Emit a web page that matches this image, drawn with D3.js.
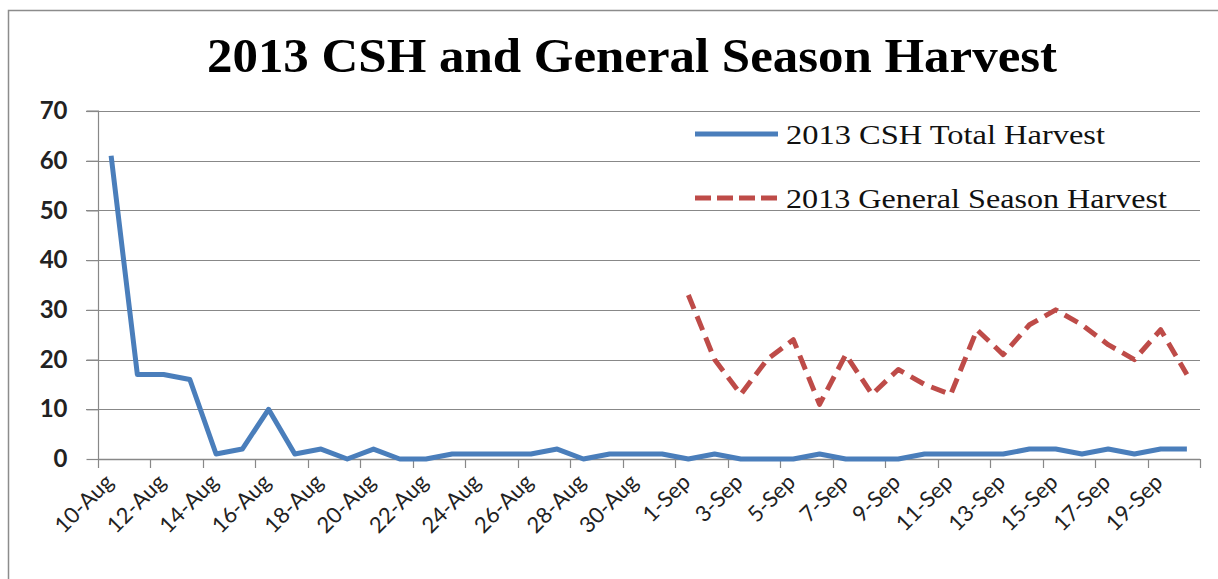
<!DOCTYPE html>
<html><head><meta charset="utf-8">
<script src="https://cdn.jsdelivr.net/npm/d3@7"></script>
<style>html,body{margin:0;padding:0;background:#fff;overflow:hidden}</style>
</head><body>
<svg id="c" width="1218" height="579"></svg>
<script>
const dates = ["10-Aug","11-Aug","12-Aug","13-Aug","14-Aug","15-Aug","16-Aug","17-Aug","18-Aug","19-Aug","20-Aug","21-Aug","22-Aug","23-Aug","24-Aug","25-Aug","26-Aug","27-Aug","28-Aug","29-Aug","30-Aug","31-Aug","1-Sep","2-Sep","3-Sep","4-Sep","5-Sep","6-Sep","7-Sep","8-Sep","9-Sep","10-Sep","11-Sep","12-Sep","13-Sep","14-Sep","15-Sep","16-Sep","17-Sep","18-Sep","19-Sep","20-Sep"];
const cshHarvest = [61,17,17,16,1,2,10,1,2,0,2,0,0,1,1,1,1,2,0,1,1,1,0,1,0,0,0,1,0,0,0,1,1,1,1,2,2,1,2,1,2,2];
const generalHarvest = [null,null,null,null,null,null,null,null,null,null,null,null,null,null,null,null,null,null,null,null,null,null,33,20,13,20,24,11,21,13,18,15,13,26,21,27,30,27,23,20,26,17];
const yTicks = [0,10,20,30,40,50,60,70];
const seriesNames = ["2013 CSH Total Harvest","2013 General Season Harvest"];
const titleText = "2013 CSH and General Season Harvest";

const svg = d3.select("#c");
const L = 98, R = 1200, T = 111, B = 459;
const blue = "#4A7EBB", red = "#BE4B48", grid = "#888888";

// frame
svg.append("rect").attr("x",8.5).attr("y",10.5).attr("width",1230).attr("height",600)
  .attr("fill","none").attr("stroke","#8c8c8c").attr("stroke-width",1.5);

const x = d3.scaleBand().domain(dates).range([L,R]).padding(0);
const y = d3.scaleLinear().domain([0,70]).range([B,T]);
const cx = d => x(d) + x.bandwidth()/2;

// gridlines
svg.append("g").selectAll("line").data(yTicks.filter(v=>v>0)).join("line")
  .attr("x1",L-12).attr("x2",R).attr("y1",d=>Math.round(y(d))+0.5).attr("y2",d=>Math.round(y(d))+0.5)
  .attr("stroke",grid).attr("stroke-width",1.2);

// y axis
const yAx = svg.append("g").attr("transform",`translate(${L+0.5},0)`)
  .call(d3.axisLeft(y).tickValues(yTicks).tickSize(12).tickPadding(19).tickFormat(d3.format("d")));
yAx.select(".domain").attr("stroke",grid).attr("stroke-width",1.2).attr("d",`M-12,${T}H0V${B}`);
yAx.selectAll(".tick line").attr("stroke",grid).attr("stroke-width",1.2);
yAx.selectAll("text").attr("font-family","Lato, 'DejaVu Sans', sans-serif").attr("font-weight","bold")
  .attr("font-size",24).attr("fill","#222");

// x axis
const tickPos = d3.range(0, dates.length+1, 2).map(i => L + i*x.bandwidth());
svg.append("line").attr("x1",L).attr("x2",R).attr("y1",B+0.5).attr("y2",B+0.5).attr("stroke",grid).attr("stroke-width",1.5);
svg.append("g").selectAll("line").data(tickPos).join("line")
  .attr("x1",d=>Math.round(d)+0.5).attr("x2",d=>Math.round(d)+0.5).attr("y1",B).attr("y2",B+9)
  .attr("stroke",grid).attr("stroke-width",1.2);
svg.append("g").selectAll("text").data(dates.filter((d,i)=>i%2===0)).join("text")
  .attr("transform",d=>`translate(${cx(d)-2},${B+19}) rotate(-45)`)
  .attr("text-anchor","end").attr("dy","0.35em")
  .attr("font-family","Lato, 'DejaVu Sans', sans-serif").attr("font-size",22).attr("fill","#222")
  .text(d=>d);

// lines
const line = d3.line().defined(d=>d[1]!==null).x(d=>cx(d[0])).y(d=>y(d[1]));
svg.append("path").datum(dates.map((d,i)=>[d,cshHarvest[i]])).attr("d",line)
  .attr("fill","none").attr("stroke",blue).attr("stroke-width",5).attr("stroke-linejoin","round");
svg.append("path").datum(dates.map((d,i)=>[d,generalHarvest[i]])).attr("d",line)
  .attr("fill","none").attr("stroke",red).attr("stroke-width",5).attr("stroke-dasharray","15,8").attr("stroke-linejoin","round");

// title
svg.append("text").attr("x",207).attr("y",72).attr("font-family","'Liberation Serif', 'Times New Roman', serif")
  .attr("font-weight","bold").attr("font-size",48).attr("textLength",850).attr("lengthAdjust","spacingAndGlyphs")
  .attr("fill","#000").text(titleText);

// legend
const leg = [{name:seriesNames[0],color:blue,dash:null,y:134,w:319},{name:seriesNames[1],color:red,dash:"16,6",y:198,w:381}];
const lg = svg.append("g").selectAll("g").data(leg).join("g");
lg.append("line").attr("x1",695).attr("x2",778).attr("y1",d=>d.y).attr("y2",d=>d.y)
  .attr("stroke",d=>d.color).attr("stroke-width",5).attr("stroke-dasharray",d=>d.dash);
lg.append("text").attr("x",786).attr("y",d=>d.y+10).attr("font-family","'Liberation Serif', 'Times New Roman', serif")
  .attr("font-size",28).attr("fill","#111").attr("textLength",d=>d.w).attr("lengthAdjust","spacingAndGlyphs")
  .text(d=>d.name);
</script>
</body></html>
